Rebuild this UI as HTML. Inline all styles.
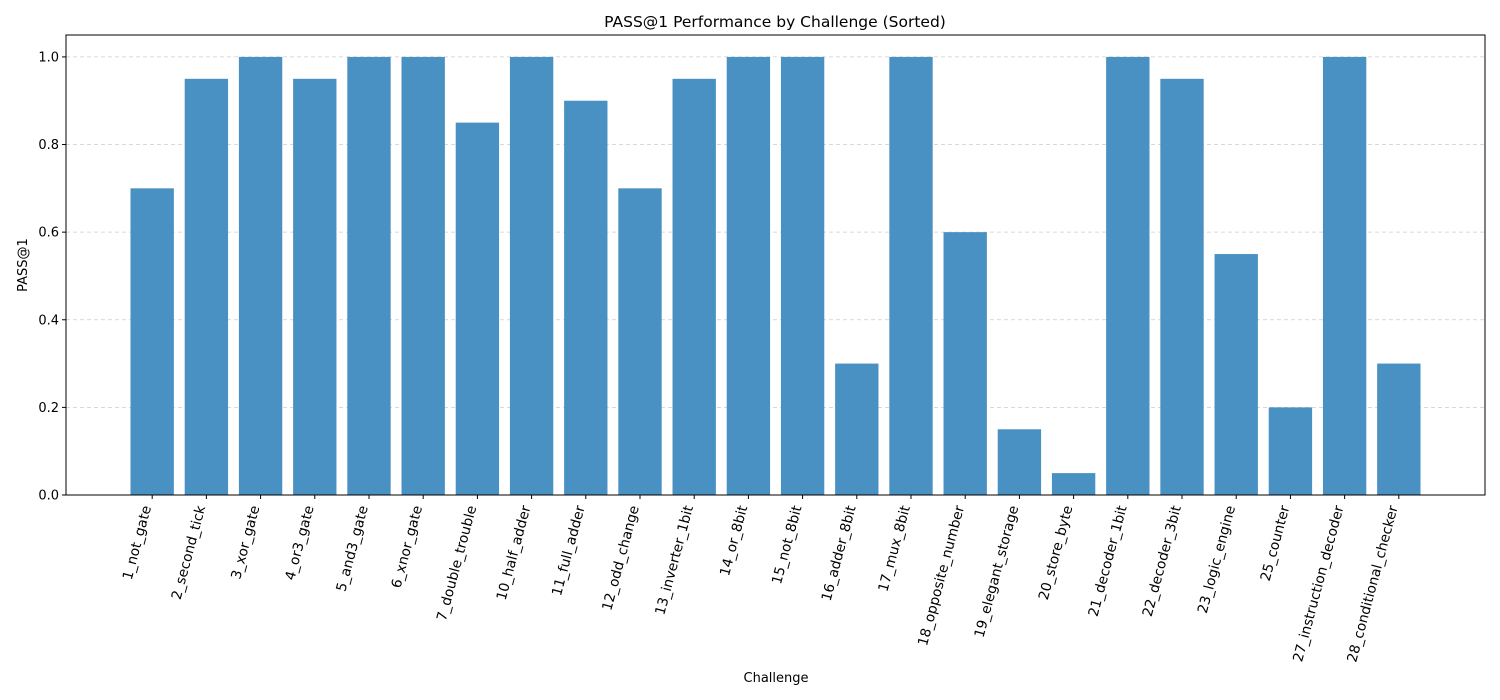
<!DOCTYPE html>
<html><head><meta charset="utf-8"><style>
body{margin:0;background:#fff}
svg{display:block;font-family:"DejaVu Sans","Liberation Sans",sans-serif}
</style></head><body>
<svg id="chart" width="1500" height="700">
<rect width="1500" height="700" fill="#fff"/>
<text x="775" y="27" font-size="15.5" text-anchor="middle" fill="#000">PASS@1 Performance by Challenge (Sorted)</text>
<text x="776" y="682" font-size="13" text-anchor="middle" fill="#000">Challenge</text>
<text transform="translate(27,265) rotate(-90)" font-size="13" text-anchor="middle" fill="#000">PASS@1</text>
<g id="grid"></g><g id="bars"></g><g id="xt"></g><g id="yt"></g>
<rect x="66" y="35" width="1419" height="460" fill="none" stroke="#000" stroke-width="1"/>
</svg>
<script>
const categories=["1_not_gate","2_second_tick","3_xor_gate","4_or3_gate","5_and3_gate","6_xnor_gate","7_double_trouble","10_half_adder","11_full_adder","12_odd_change","13_inverter_1bit","14_or_8bit","15_not_8bit","16_adder_8bit","17_mux_8bit","18_opposite_number","19_elegant_storage","20_store_byte","21_decoder_1bit","22_decoder_3bit","23_logic_engine","25_counter","27_instruction_decoder","28_conditional_checker"];
const values=[0.7,0.95,1,0.95,1,1,0.85,1,0.9,0.7,0.95,1,1,0.3,1,0.6,0.15,0.05,1,0.95,0.55,0.2,1,0.3];
const yTicks=[0,0.2,0.4,0.6,0.8,1.0];
const NS="http://www.w3.org/2000/svg";
const L=66,R=1485,T=35,B=495;
const n=categories.length;
const xmin=-0.4-0.05*(n-0.2),xmax=n-1+0.4+0.05*(n-0.2);
const x=v=>L+(v-xmin)/(xmax-xmin)*(R-L);
const y=v=>B-v/1.05*(B-T);
function mk(t,a,p){const e=document.createElementNS(NS,t);for(const k in a)e.setAttribute(k,a[k]);p.appendChild(e);return e;}
const g=document.getElementById('grid'),bg=document.getElementById('bars'),xt=document.getElementById('xt'),yt=document.getElementById('yt');
yTicks.forEach(v=>{
 const l=mk('line',{x1:L,x2:R,y1:y(v),y2:y(v),stroke:'#ccc','stroke-dasharray':'4,3','stroke-width':0.8},g);
 
 
 mk('line',{x1:L-4,x2:L,y1:y(v),y2:y(v),stroke:'#000'},yt);
 const t=mk('text',{x:L-7,y:y(v)+4.5,'font-size':13,'text-anchor':'end'},yt);
 t.textContent=v.toFixed(1);
 
 
});
const w=(x(0.8)-x(0));
categories.forEach((c,i)=>{
 const r=mk('rect',{x:x(i)-w/2,y:y(values[i]),width:w,height:B-y(values[i]),fill:'#4a91c3'},bg);
 
 
 mk('line',{x1:x(i),x2:x(i),y1:B,y2:B+4,stroke:'#000'},xt);
 const t=mk('text',{transform:`translate(${x(i)-1},${B+12}) rotate(-75)`,'font-size':13.8,'text-anchor':'end'},xt);
 t.textContent=c;
 
 
});
</script>
</body></html>
